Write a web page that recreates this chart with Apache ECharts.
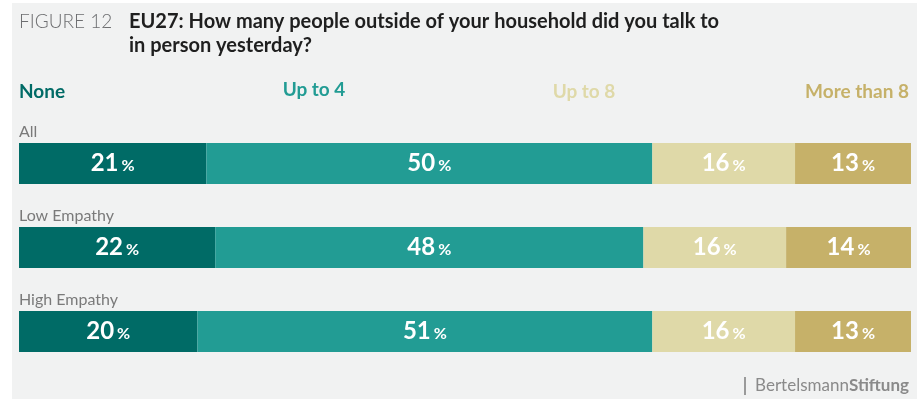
<!DOCTYPE html>
<html>
<head>
<meta charset="utf-8">
<script src="https://cdn.jsdelivr.net/npm/echarts@6/dist/echarts.min.js"></script>
<style>
  html, body { margin: 0; padding: 0; background: #ffffff; }
  #chart { width: 917px; height: 399px; }
</style>
</head>
<body>
<div id="chart"></div>
<script>
// Survey groups (rows) and answer shares in percent
var categories = ['All', 'Low Empathy', 'High Empathy'];
var answerNames = ['None', 'Up to 4', 'Up to 8', 'More than 8'];
var noneValues = [21, 22, 20];
var upTo4Values = [50, 48, 51];
var upTo8Values = [16, 16, 16];
var moreThan8Values = [13, 14, 13];

var seriesValues = [noneValues, upTo4Values, upTo8Values, moreThan8Values];
var colors = ['#006b66', '#229c94', '#dfd9a8', '#c6b169'];
var FONT = 'Lato, "Noto Sans", sans-serif';

var chart = echarts.init(document.getElementById('chart'));

var series = answerNames.map(function (name, i) {
  return {
    name: name,
    type: 'bar',
    stack: 'total',
    barWidth: 41,
    itemStyle: { color: colors[i] },
    emphasis: { disabled: true },
    label: {
      show: true,
      position: 'inside',
      formatter: function (p) { return '{v|' + p.value + '}{p|%}'; },
      rich: {
        v: { fontFamily: FONT, fontWeight: 'bold', fontSize: 24, color: '#ffffff' },
        p: { fontFamily: FONT, fontWeight: 'bold', fontSize: 16, color: '#ffffff', padding: [5, 0, 0, 3] }
      }
    },
    data: seriesValues[i]
  };
});

// Legend headings above the bars, coloured like their segments
var legendPos = [
  { x: 19, y: 92, align: 'left' },
  { x: 314, y: 90, align: 'center' },
  { x: 584, y: 92, align: 'center' },
  { x: 909, y: 92, align: 'right' }
];
var legendTexts = answerNames.map(function (name, i) {
  return {
    type: 'text',
    x: legendPos[i].x,
    y: legendPos[i].y,
    style: {
      text: name,
      fill: colors[i],
      font: 'bold 19px ' + FONT,
      textAlign: legendPos[i].align,
      textVerticalAlign: 'middle'
    }
  };
});

var option = {
  backgroundColor: '#ffffff',
  animation: false,
  grid: { left: 19, right: 6, top: 121.5, bottom: 25.5, containLabel: false },
  xAxis: {
    type: 'value',
    min: 0,
    max: 100,
    show: false
  },
  yAxis: {
    type: 'category',
    inverse: true,
    data: categories,
    axisLine: { show: false },
    axisTick: { show: false },
    axisLabel: {
      inside: true,
      margin: 0,
      align: 'left',
      verticalAlign: 'bottom',
      padding: [0, 0, 24, 0],
      color: '#7a7a7a',
      fontFamily: FONT,
      fontSize: 16
    }
  },
  series: series,
  graphic: [
    {
      type: 'rect',
      shape: { x: 12, y: 3, width: 905, height: 396 },
      style: { fill: '#f1f2f2' },
      z: -10
    },
    {
      type: 'text',
      x: 19, y: 22,
      style: { text: 'FIGURE 12', fill: '#6d6e70', font: '300 19px ' + FONT, textVerticalAlign: 'middle' }
    },
    {
      type: 'text',
      x: 129, y: 10,
      style: {
        text: 'EU27: How many people outside of your household did you talk to\nin person yesterday?',
        fill: '#1f1f1f',
        font: 'bold 20px ' + FONT,
        lineHeight: 24
      }
    },
    {
      type: 'rect',
      shape: { x: 744, y: 377, width: 2, height: 18 },
      style: { fill: '#9a9a9a' }
    },
    {
      type: 'text',
      x: 909, y: 386,
      style: {
        text: '{a|Bertelsmann}{b|Stiftung}',
        textAlign: 'right',
        textVerticalAlign: 'middle',
        rich: {
          a: { fontFamily: FONT, fontSize: 17, fill: '#8a8a8a', color: '#8a8a8a' },
          b: { fontFamily: FONT, fontSize: 17, fontWeight: 'bold', fill: '#8a8a8a', color: '#8a8a8a' }
        }
      }
    }
  ].concat(legendTexts)
};

chart.setOption(option);
</script>
</body>
</html>
